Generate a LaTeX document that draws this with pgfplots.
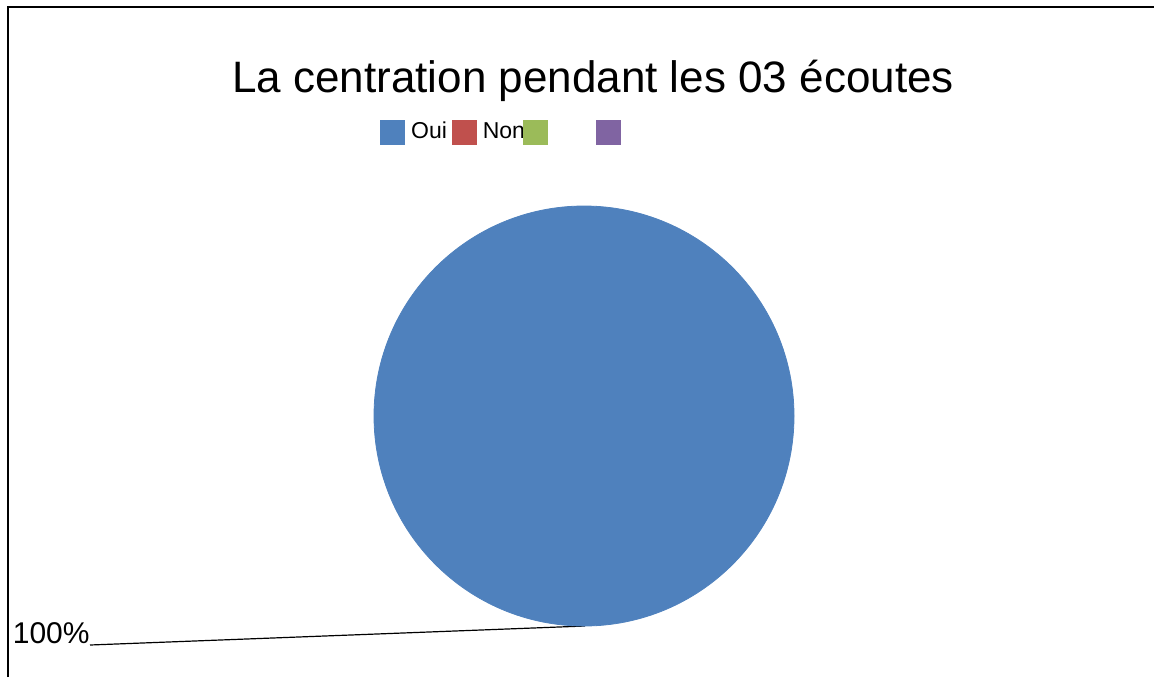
\documentclass[border=0pt]{standalone}
\usepackage{pgfplots}
\pgfplotsset{compat=1.18}
\usepackage{fontspec}
\setmainfont{Liberation Sans}

\definecolor{ouiblue}{HTML}{4F81BD}
\definecolor{nonred}{HTML}{C0504D}
\definecolor{s3green}{HTML}{9BBB59}
\definecolor{s4purple}{HTML}{8064A2}

\begin{document}
\begin{tikzpicture}
\begin{axis}[
    scale only axis,
    width=577pt,
    height=338.5pt,
    xmin=0, xmax=1154,
    ymin=0, ymax=677,
    hide axis,
    clip=false,
    legend columns=4,
    legend style={
        at={(axis cs:380,545)}, anchor=west,
        draw=none, fill=none, inner sep=0pt,
        font=\fontsize{11.5pt}{12pt}\selectfont,
        nodes={inner sep=0pt},
        /tikz/every odd column/.style={column sep=3pt},
        /tikz/every even column/.style={column sep=2.5pt},
    },
]
% pie: Oui = 100 %, Non = 0 % -> one full disc
\addplot[forget plot, only marks, mark=*, mark size=105pt,
    mark options={draw=ouiblue, fill=ouiblue}] coordinates {(584,261)};

\addlegendimage{legend image code/.code={\fill[ouiblue] (0,-6pt) rectangle (12pt,6pt);}}
\addlegendentry{Oui}
\addlegendimage{legend image code/.code={\fill[nonred] (0,-6pt) rectangle (12pt,6pt);}}
\addlegendentry{\makebox[17.5pt][l]{Non}}
\addlegendimage{legend image code/.code={\fill[s3green] (0,-6pt) rectangle (12pt,6pt);}}
\addlegendentry{\rule{18.5pt}{0pt}}
\addlegendimage{legend image code/.code={\fill[s4purple] (0,-6pt) rectangle (12pt,6pt);}}
\addlegendentry{}

\node[anchor=base, font=\fontsize{22pt}{26pt}\selectfont] at (axis cs:593,585)
    {La centration pendant les 03 écoutes};

% leader line and value label
\draw[black, line width=0.6pt] (axis cs:585,51) -- (axis cs:90,32);
\node[anchor=base east, inner sep=0pt, font=\fontsize{15pt}{18pt}\selectfont]
    at (axis cs:90,34) {100\%};

% frame (left and top edges)
\draw[black, line width=1pt] (axis cs:8,0) -- (axis cs:8,670) -- (axis cs:1154,670);
\end{axis}
\pgfresetboundingbox
\path (0,0) rectangle (577pt,338.5pt);
\end{tikzpicture}
\end{document}
